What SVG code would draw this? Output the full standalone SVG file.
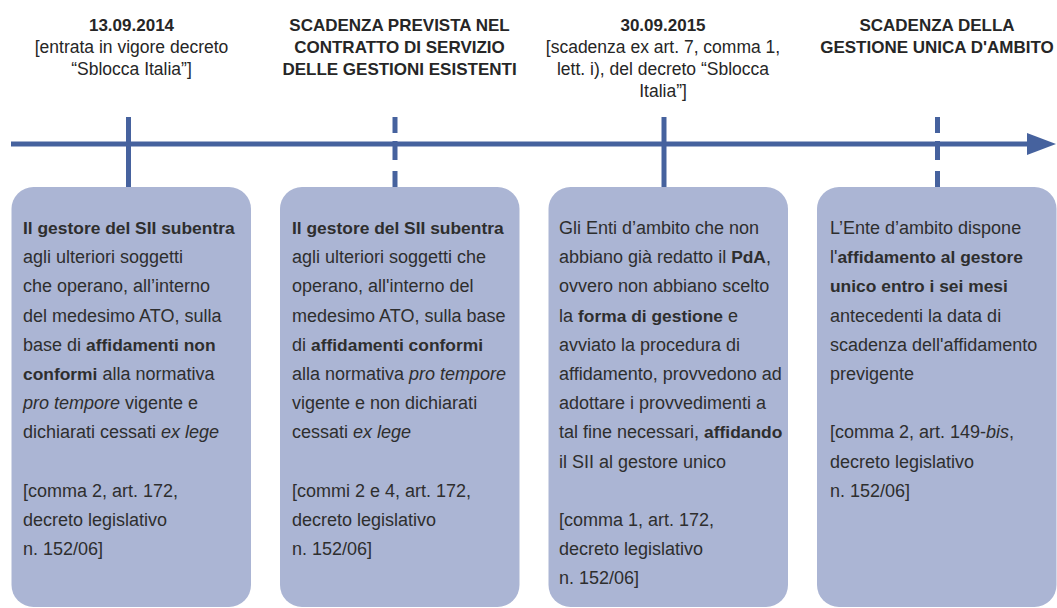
<svg xmlns="http://www.w3.org/2000/svg" width="1057" height="608" viewBox="0 0 1057 608">
<style>
.box{fill:#abb5d4}
.ax{stroke:#46629e;stroke-width:5;fill:none}
.hd{font-family:"Liberation Sans",Arial,sans-serif;font-size:17px;font-weight:bold;fill:#262626;text-anchor:middle}
.hr{font-family:"Liberation Sans",Arial,sans-serif;font-size:17.5px;fill:#262626;text-anchor:middle}
.tx{font-family:"Liberation Sans",Arial,sans-serif;font-size:18px;fill:#2e2e2e}
.b{font-weight:bold;font-size:17.4px}
.i{font-style:italic}
</style>
<rect width="1057" height="608" fill="#ffffff"/>
<g id="connectors">
<line class="ax" x1="11" y1="144" x2="1030" y2="144"/>
<polygon points="1027,133 1056,144 1027,155" fill="#46629e"/>
<line class="ax" x1="128.5" y1="117" x2="128.5" y2="187"/>
<line class="ax" x1="664" y1="117" x2="664" y2="187"/>
<g class="ax">
<line x1="395" y1="117" x2="395" y2="133"/>
<line x1="395" y1="141" x2="395" y2="160"/>
<line x1="395" y1="171" x2="395" y2="187"/>
<line x1="937.5" y1="117" x2="937.5" y2="133"/>
<line x1="937.5" y1="141" x2="937.5" y2="160"/>
<line x1="937.5" y1="171" x2="937.5" y2="187"/>
</g>
</g>
<g id="header1">
<text class="hd" x="131.5" y="31">13.09.2014</text>
<text class="hr" x="131.5" y="53">[entrata in vigore decreto</text>
<text class="hr" x="131.5" y="75">“Sblocca Italia”]</text>
</g>
<g id="header2">
<text class="hd" x="399.5" y="31">SCADENZA PREVISTA NEL</text>
<text class="hd" x="399.5" y="53">CONTRATTO DI SERVIZIO</text>
<text class="hd" x="399.5" y="75">DELLE GESTIONI ESISTENTI</text>
</g>
<g id="header3">
<text class="hd" x="663" y="31">30.09.2015</text>
<text class="hr" x="663" y="53">[scadenza ex art. 7, comma 1,</text>
<text class="hr" x="663" y="75">lett. i), del decreto “Sblocca</text>
<text class="hr" x="663" y="97">Italia”]</text>
</g>
<g id="header4">
<text class="hd" x="937" y="31">SCADENZA DELLA</text>
<text class="hd" x="937" y="53">GESTIONE UNICA D'AMBITO</text>
</g>
<g id="box1">
<rect class="box" x="11.5" y="187" width="239.5" height="420" rx="22"/>
<text class="tx">
<tspan x="23" y="234" class="b">Il gestore del SII subentra</tspan>
<tspan x="23" y="263.2">agli ulteriori soggetti</tspan>
<tspan x="23" y="292.4">che operano, all’interno</tspan>
<tspan x="23" y="321.6">del medesimo ATO, sulla</tspan>
<tspan x="23" y="350.8">base di <tspan class="b">affidamenti non</tspan></tspan>
<tspan x="23" y="380"><tspan class="b">conformi</tspan> alla normativa</tspan>
<tspan x="23" y="409.2"><tspan class="i">pro tempore</tspan> vigente e</tspan>
<tspan x="23" y="438.4">dichiarati cessati <tspan class="i">ex lege</tspan></tspan>
<tspan x="23" y="496.8">[comma 2, art. 172,</tspan>
<tspan x="23" y="526">decreto legislativo</tspan>
<tspan x="23" y="555.2">n. 152/06]</tspan>
</text>
</g>
<g id="box2">
<rect class="box" x="280" y="187" width="239.5" height="420" rx="22"/>
<text class="tx">
<tspan x="292" y="234" class="b">Il gestore del SII subentra</tspan>
<tspan x="292" y="263.2">agli ulteriori soggetti che</tspan>
<tspan x="292" y="292.4">operano, all'interno del</tspan>
<tspan x="292" y="321.6">medesimo ATO, sulla base</tspan>
<tspan x="292" y="350.8">di <tspan class="b">affidamenti conformi</tspan></tspan>
<tspan x="292" y="380">alla normativa <tspan class="i">pro tempore</tspan></tspan>
<tspan x="292" y="409.2">vigente e non dichiarati</tspan>
<tspan x="292" y="438.4">cessati <tspan class="i">ex lege</tspan></tspan>
<tspan x="292" y="496.8">[commi 2 e 4, art. 172,</tspan>
<tspan x="292" y="526">decreto legislativo</tspan>
<tspan x="292" y="555.2">n. 152/06]</tspan>
</text>
</g>
<g id="box3">
<rect class="box" x="548.5" y="187" width="239.5" height="420" rx="22"/>
<text class="tx">
<tspan x="559" y="234">Gli Enti d’ambito che non</tspan>
<tspan x="559" y="263.2">abbiano già redatto il <tspan class="b">PdA</tspan>,</tspan>
<tspan x="559" y="292.4">ovvero non abbiano scelto</tspan>
<tspan x="559" y="321.6">la <tspan class="b">forma di gestione</tspan> e</tspan>
<tspan x="559" y="350.8">avviato la procedura di</tspan>
<tspan x="559" y="380">affidamento, provvedono ad</tspan>
<tspan x="559" y="409.2">adottare i provvedimenti a</tspan>
<tspan x="559" y="438.4">tal fine necessari, <tspan class="b">affidando</tspan></tspan>
<tspan x="559" y="467.6">il SII al gestore unico</tspan>
<tspan x="559" y="526">[comma 1, art. 172,</tspan>
<tspan x="559" y="555.2">decreto legislativo</tspan>
<tspan x="559" y="584.4">n. 152/06]</tspan>
</text>
</g>
<g id="box4">
<rect class="box" x="817" y="187" width="239.5" height="420" rx="22"/>
<text class="tx">
<tspan x="830" y="234">L’Ente d’ambito dispone</tspan>
<tspan x="830" y="263.2">l'<tspan class="b">affidamento al gestore</tspan></tspan>
<tspan x="830" y="292.4" class="b">unico entro i sei mesi</tspan>
<tspan x="830" y="321.6">antecedenti la data di</tspan>
<tspan x="830" y="350.8">scadenza dell'affidamento</tspan>
<tspan x="830" y="380">previgente</tspan>
<tspan x="830" y="438.4">[comma 2, art. 149-<tspan class="i">bis</tspan>,</tspan>
<tspan x="830" y="467.6">decreto legislativo</tspan>
<tspan x="830" y="496.8">n. 152/06]</tspan>
</text>
</g>
</svg>
